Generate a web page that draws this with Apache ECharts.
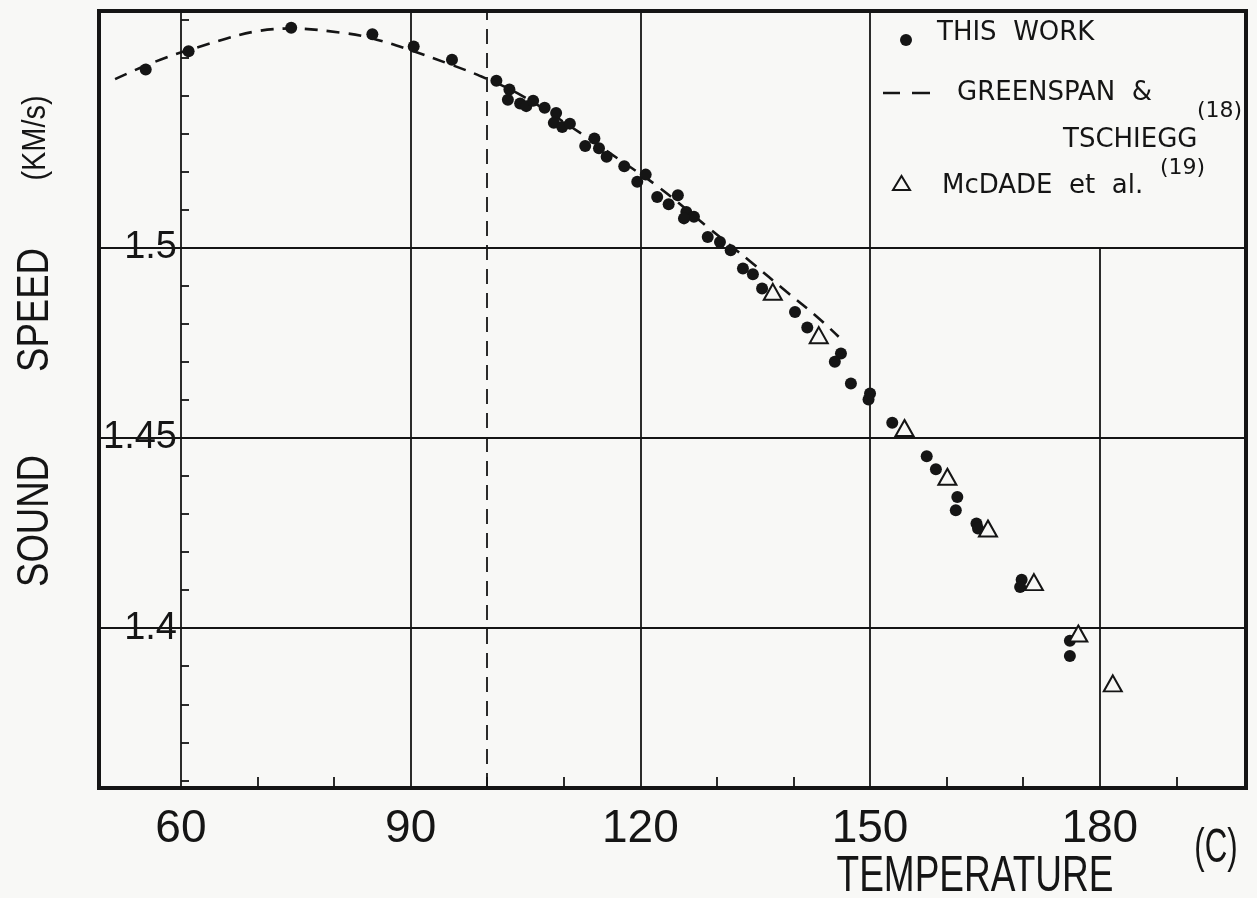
<!DOCTYPE html>
<html>
  <head>
    <meta charset="utf-8" />
    <title>Sound speed vs temperature</title>
    <script src="https://cdn.jsdelivr.net/npm/echarts@6/dist/echarts.min.js"></script>
    <style>
      html, body { margin: 0; padding: 0; background: #f8f8f6; }
      #chart { width: 1257px; height: 898px; }
    </style>
  </head>

  <body>
    <div id="chart"></div>
    <script type="text/javascript">
      // axis ranges and tick values
      var xRange = [49.3, 199.1];
      var yRange = [1.358, 1.5622];
      var xLabels = [60, 90, 120, 150, 180];
      var xGrid = [60, 90, 120, 150];
      var xMinor = [70, 80, 100, 110, 130, 140, 160, 170, 190];
      var yLabels = [1.4, 1.45, 1.5];
      var yMinor = [1.36, 1.37, 1.38, 1.39, 1.41, 1.42, 1.43, 1.44, 1.46, 1.47,
        1.48, 1.49, 1.51, 1.52, 1.53, 1.54, 1.55, 1.56];

      // this work (dots)
      var workT = [55.4, 61.0, 74.4, 85.0, 90.4, 95.4, 101.2, 102.9, 102.7, 104.3,
        105.1, 106.0, 107.5, 109.0, 108.7, 109.8, 110.8, 114.0, 112.8, 114.6,
        115.6, 117.9, 120.7, 119.6, 122.2, 124.9, 123.7, 126.0, 127.0, 125.7,
        128.8, 130.4, 131.8, 133.4, 134.7, 135.9, 140.2, 141.8, 146.2, 145.4,
        147.5, 150.0, 149.8, 152.9, 157.4, 158.6, 161.4, 161.2, 163.9, 164.1,
        169.8, 169.6, 176.1, 176.1];
      var workC = [1.5468, 1.5516, 1.5578, 1.5561, 1.5529, 1.5494, 1.5439, 1.5416, 1.5389, 1.5379,
        1.5372, 1.5386, 1.5368, 1.5354, 1.5328, 1.5317, 1.5326, 1.5287, 1.5267, 1.5261,
        1.5239, 1.5214, 1.5192, 1.5173, 1.5133, 1.5138, 1.5114, 1.5094, 1.5081, 1.5077,
        1.5028, 1.5015, 1.4993, 1.4945, 1.4930, 1.4893, 1.4831, 1.4790, 1.4722, 1.4700,
        1.4643, 1.4617, 1.4601, 1.4540, 1.4452, 1.4418, 1.4345, 1.4310, 1.4275, 1.4262,
        1.4127, 1.4108, 1.3967, 1.3927];

      // Greenspan & Tschiegg (dashed curve)
      var gtT = [51.4, 60.9, 74.4, 81.3, 85.0, 90.0, 95.4, 99.1, 104.4,
        112.2, 117.0, 122.6, 128.8, 134.4, 139.1, 143.1, 145.9];
      var gtC = [1.5443, 1.5519, 1.5576, 1.5564, 1.5550, 1.5519, 1.5480, 1.5451, 1.5401,
        1.5301, 1.5235, 1.5156, 1.5054, 1.4963, 1.4884, 1.4818, 1.4766];

      // McDade et al. (triangles)
      var mcT = [137.3, 143.3, 154.5, 160.1, 165.4, 171.4, 177.2, 181.7];
      var mcC = [1.4884, 1.4770, 1.4526, 1.4398, 1.4262, 1.4121, 1.3986, 1.3855];

      function pairs(a, b) {
        return a.map(function (v, i) { return [v, b[i]]; });
      }

      var ink = "#151515";
      var paper = "#f8f8f6";
      var sans = "'Liberation Sans', Arial, sans-serif";
      var legendFont = "'DejaVu Sans', sans-serif";

      // rotated / squeezed titles
      function title(text, x, y, size, sx, rot) {
        return {
          type: "text", x: x, y: y, rotation: rot || 0, scaleX: sx,
          style: { text: text, font: size + "px " + sans, fill: ink, align: "center", verticalAlign: "middle" }
        };
      }
      function legendText(text, x, y, size) {
        return {
          type: "text", x: x, y: y,
          style: { text: text, font: size + "px " + legendFont, fill: ink, align: "left", verticalAlign: "middle" }
        };
      }

      var myChart = echarts.init(document.getElementById("chart"), null, { renderer: "canvas" });

      var option = {
        backgroundColor: paper,
        animation: false,
        grid: {
          left: 99, right: 11, top: 11, bottom: 110,
          show: true, borderColor: ink, borderWidth: 4, backgroundColor: "transparent"
        },
        xAxis: [
          {
            type: "value", min: xRange[0], max: xRange[1],
            axisLine: { show: false },
            axisTick: { show: false, customValues: xGrid },
            splitLine: { show: true, lineStyle: { color: ink, width: 1.8 } },
            axisLabel: {
              customValues: xLabels, margin: 18, color: ink,
              fontSize: 46, fontFamily: sans
            }
          },
          {
            type: "value", min: xRange[0], max: xRange[1], position: "bottom",
            axisLine: { show: false },
            axisTick: { show: true, inside: true, length: 11, customValues: xMinor,
              lineStyle: { color: ink, width: 1.8 } },
            splitLine: { show: false },
            axisLabel: { show: false }
          }
        ],
        yAxis: [
          {
            type: "value", min: yRange[0], max: yRange[1], position: "left", offset: -82,
            axisLine: { show: false },
            axisTick: { show: false, customValues: yLabels },
            splitLine: { show: true, lineStyle: { color: ink, width: 1.8 } },
            axisLabel: {
              customValues: yLabels, margin: 4, color: ink,
              fontSize: 38, fontFamily: sans
            }
          },
          {
            type: "value", min: yRange[0], max: yRange[1], position: "left", offset: -82,
            axisLine: { show: false },
            axisTick: { show: true, inside: true, length: 8, customValues: yMinor,
              lineStyle: { color: ink, width: 1.8 } },
            splitLine: { show: false },
            axisLabel: { show: false }
          }
        ],
        series: [
          {
            name: "GREENSPAN & TSCHIEGG",
            type: "line",
            data: pairs(gtT, gtC),
            smooth: 0.4,
            showSymbol: false,
            lineStyle: { color: ink, width: 2.6, type: [13, 9] },
            z: 3,
            markLine: {
              silent: true,
              symbol: ["none", "none"],
              label: { show: false },
              data: [
                { xAxis: 100, lineStyle: { color: ink, width: 1.8, type: [15, 9] } },
                [
                  { coord: [180, yRange[0]], lineStyle: { color: ink, width: 1.8, type: "solid" } },
                  { coord: [180, 1.5] }
                ]
              ]
            }
          },
          {
            name: "THIS WORK",
            type: "scatter",
            data: pairs(workT, workC),
            symbol: "circle",
            symbolSize: 12,
            itemStyle: { color: ink, opacity: 1 },
            z: 4
          },
          {
            name: "McDADE et al.",
            type: "scatter",
            data: pairs(mcT, mcC),
            symbol: "triangle",
            symbolSize: [18, 16],
            itemStyle: { color: paper, borderColor: ink, borderWidth: 2, opacity: 1 },
            z: 5
          }
        ],
        graphic: [
          // legend
          { type: "circle", shape: { cx: 906, cy: 40, r: 6 }, style: { fill: ink } },
          legendText("THIS  WORK", 937, 33, 26),
          { type: "line", shape: { x1: 883, y1: 93, x2: 900, y2: 93 }, style: { stroke: ink, lineWidth: 2.5 } },
          { type: "line", shape: { x1: 912, y1: 93, x2: 930, y2: 93 }, style: { stroke: ink, lineWidth: 2.5 } },
          legendText("GREENSPAN  &", 957, 93, 26),
          legendText("(18)", 1197, 111, 22),
          legendText("TSCHIEGG", 1063, 140, 26),
          legendText("(19)", 1160, 168, 22),
          { type: "polygon", shape: { points: [[893, 190], [910, 190], [901.5, 176]] }, style: { fill: "none", stroke: ink, lineWidth: 2 } },
          legendText("McDADE  et  al.", 942, 186, 26),
          // axis titles
          title("TEMPERATURE", 975, 877, 50, 0.74),
          title("(C)", 1216, 849, 48, 0.65),
          title("SOUND", 36, 521, 44, 0.83, Math.PI / 2),
          title("SPEED", 36, 310, 44, 0.83, Math.PI / 2),
          title("(KM/s)", 36, 138, 34, 0.85, Math.PI / 2)
        ]
      };

      myChart.setOption(option);
    </script>
  </body>
</html>
